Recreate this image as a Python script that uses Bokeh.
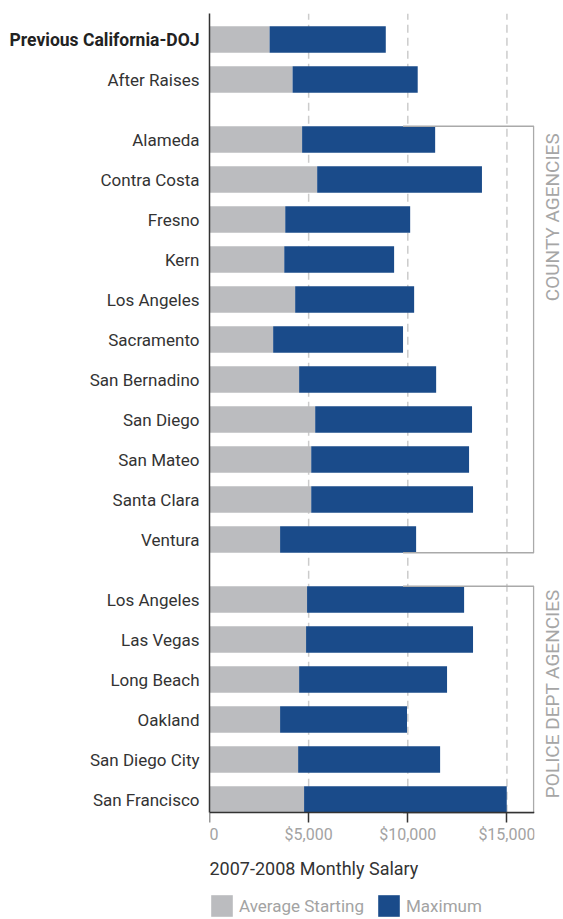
import math
from bokeh.plotting import figure
from bokeh.models import (FixedTicker, Legend, LegendItem, ColumnDataSource, Range1d,
                          LinearAxis, Label)
from bokeh.embed import file_html
from bokeh.resources import INLINE

# ---- data ----
agencies = ["Previous California-DOJ", "After Raises",
            "Alameda", "Contra Costa", "Fresno", "Kern", "Los Angeles", "Sacramento",
            "San Bernadino", "San Diego", "San Mateo", "Santa Clara", "Ventura",
            "Los Angeles", "Las Vegas", "Long Beach", "Oakland", "San Diego City", "San Francisco"]
groups = ["DOJ", "DOJ"] + ["County"] * 11 + ["Police"] * 6
starting = [3030, 4190, 4670, 5430, 3820, 3770, 4320, 3210, 4520, 5330, 5130, 5130, 3560,
            4920, 4870, 4520, 3560, 4470, 4770]
maximum = [8890, 10500, 11380, 13740, 10120, 9310, 10320, 9760, 11430, 13240, 13090, 13290, 10420,
           12840, 13290, 11980, 9960, 11630, 14990]
x_ticks = [0, 5000, 10000, 15000]
# the "0" carries a leading figure space so it is not cut by the plot's left edge
x_tick_labels = ["\u20070", "$5,000", "$10,000", "$15,000"]
x_title = "2007-2008 Monthly Salary"
group_titles = {"County": "COUNTY AGENCIES", "Police": "POLICE DEPT AGENCIES"}

FONT = "Roboto"
GRAY = "#bbbcbf"
BLUE = "#1a4b8a"
BAR_H = 0.667
X_END = 16390
ROW_PX = 40
FRAME_H = 906          # frame runs to the bottom of the window; axis/legend drawn inside it
X_TITLE_PX = 51        # axis title centre above frame bottom
# distance (px) from bracket top to the bottom end of its rotated title
TITLE_END_PX = {"County": 175, "Police": 212}

# row positions (bottom-up, half-row gap between groups)
ypos = [0.0] * len(agencies)
cur = 0.0
for i in range(len(agencies) - 1, -1, -1):
    if i < len(agencies) - 1 and groups[i] != groups[i + 1]:
        cur += 0.5
    ypos[i] = cur
    cur += 1.0

y_hi = max(ypos) + 0.65
y_lo = y_hi - FRAME_H / ROW_PX
bar_floor = min(ypos) - BAR_H / 2

src = ColumnDataSource(dict(y=ypos, start=starting, mx=maximum, zero=[0] * len(ypos)))

p = figure(frame_width=325, frame_height=FRAME_H,
           min_border_left=209, min_border_right=29, min_border_top=13, min_border_bottom=0,
           output_backend="svg", toolbar_location=None,
           x_range=Range1d(0, X_END), y_range=Range1d(y_lo, y_hi))
p.outline_line_color = None
p.background_fill_color = "white"
p.border_fill_color = "white"
p.xgrid.visible = False
p.ygrid.visible = False

# dashed vertical gridlines (only over the bar area)
gx = x_ticks[1:]
p.segment(x0=gx, x1=gx, y0=[bar_floor] * len(gx), y1=[y_hi] * len(gx),
          line_color="#cccccc", line_width=1.5, line_dash="8 5")

r1 = p.hbar(y="y", left="zero", right="start", height=BAR_H, source=src,
            fill_color=GRAY, line_color=None)
r2 = p.hbar(y="y", left="start", right="mx", height=BAR_H, source=src,
            fill_color=BLUE, line_color=None)

# x axis, drawn at the bottom of the bars
xa = p.xaxis[0]
xa.fixed_location = bar_floor
xa.ticker = FixedTicker(ticks=x_ticks)
xa.major_label_overrides = {t: l for t, l in zip(x_ticks, x_tick_labels)}
xa.axis_line_color = "#333333"
xa.axis_line_width = 1.5
xa.major_tick_line_color = "#333333"
xa.major_tick_line_width = 1.5
xa.major_tick_out = 10
xa.major_tick_in = 0
xa.minor_tick_line_color = None
xa.major_label_text_font = FONT
xa.major_label_text_font_size = "16px"
xa.major_label_text_color = "#a3a3a3"
xa.major_label_standoff = 2

# axis title, left aligned at 0
p.add_layout(Label(x=0, y=y_lo + X_TITLE_PX / ROW_PX,
                   text=x_title, text_align="left", text_baseline="middle",
                   text_font=FONT, text_font_size="18px", text_color="#333333"))

# y axis (labels except the bold first one)
ya = p.yaxis[0]
ya.bounds = (bar_floor, y_hi)
ya.ticker = FixedTicker(ticks=ypos[1:])
ya.major_label_overrides = {y: a for y, a in zip(ypos[1:], agencies[1:])}
ya.axis_line_color = "#333333"
ya.axis_line_width = 1.5
ya.major_tick_line_color = None
ya.minor_tick_line_color = None
ya.major_tick_out = 0
ya.major_tick_in = 0
ya.major_label_standoff = 10
ya.major_label_text_font = FONT
ya.major_label_text_font_size = "17px"
ya.major_label_text_color = "#333333"

# bold first label on an outer left axis, pulled back toward the frame
bold_ax = LinearAxis(ticker=FixedTicker(ticks=[ypos[0]]),
                     major_label_overrides={ypos[0]: agencies[0]},
                     axis_line_color=None, major_tick_line_color=None,
                     minor_tick_line_color=None, major_tick_out=0, major_tick_in=0,
                     major_label_standoff=-113, major_label_text_font=FONT,
                     major_label_text_font_size="17.5px", major_label_text_font_style="bold",
                     major_label_text_color="#222222")
p.add_layout(bold_ax, "left")

# group brackets
title_ticks = {}
for g, title in group_titles.items():
    ys = [y for y, gg in zip(ypos, groups) if gg == g]
    top = max(ys) + BAR_H / 2
    bot = min(ys) - BAR_H / 2
    xr = X_END - 40
    xl = 9760
    p.line(x=[xl, xr, xr, xl], y=[top, top, bot, bot], line_color="#aaaaaa", line_width=1.5)
    title_ticks[top - TITLE_END_PX[g] / ROW_PX] = title

# group titles as rotated labels (reading bottom-to-top) of a right axis
rax = LinearAxis(ticker=FixedTicker(ticks=list(title_ticks.keys())),
                 major_label_overrides=title_ticks,
                 major_label_orientation=math.pi / 2,
                 axis_line_color=None, major_tick_line_color=None, minor_tick_line_color=None,
                 major_tick_out=0, major_tick_in=0, major_label_standoff=18,
                 major_label_text_font=FONT, major_label_text_font_size="19px",
                 major_label_text_color="#a6a6a6")
p.add_layout(rax, "right")

legend = Legend(items=[LegendItem(label="Average Starting", renderers=[r1]),
                       LegendItem(label="Maximum", renderers=[r2])],
                orientation="horizontal", location=(-1, 0),
                glyph_width=27, glyph_height=27, label_standoff=4, spacing=11,
                padding=0, margin=0, border_line_color=None, background_fill_alpha=0,
                label_text_font=FONT, label_text_font_size="17px", label_text_color="#a3a3a3")
p.add_layout(legend)

open("out.html", "w").write(file_html(p, INLINE))
